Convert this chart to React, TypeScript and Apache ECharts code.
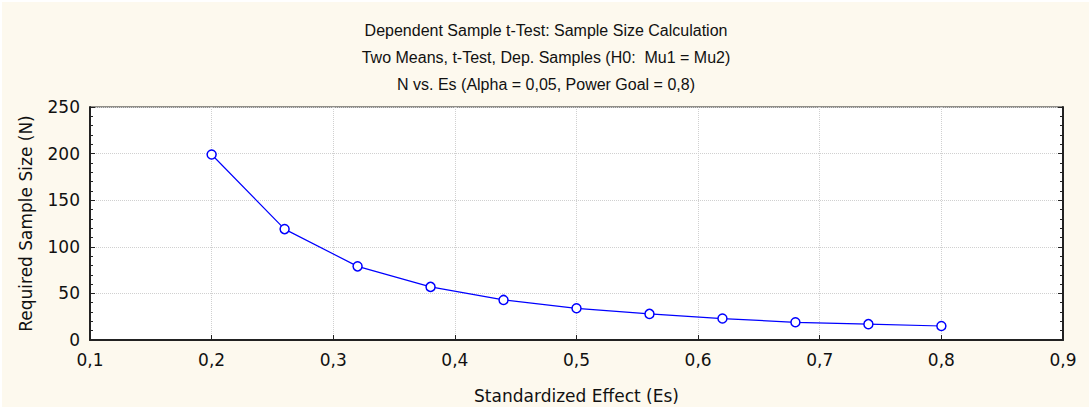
import React, { useEffect, useRef } from "react";
import * as echarts from "echarts";

const titleLines = [
  "Dependent Sample t-Test: Sample Size Calculation",
  "Two Means, t-Test, Dep. Samples (H0:  Mu1 = Mu2)",
  "N vs. Es (Alpha = 0,05, Power Goal = 0,8)",
];
const effectSizes = [0.2, 0.26, 0.32, 0.38, 0.44, 0.5, 0.56, 0.62, 0.68, 0.74, 0.8];
const sampleSizes = [199, 119, 79, 57, 43, 34, 28, 23, 19, 17, 15];
const xAxisName = "Standardized Effect (Es)";
const yAxisName = "Required Sample Size (N)";

const fmt = (v: number) => {
  if (v === 0) return "0";
  return (Math.round(v * 10) / 10).toString().replace(".", ",");
};

export default function App() {
  const ref = useRef<HTMLDivElement>(null);
  useEffect(() => {
    if (!ref.current) return;
    const chart = echarts.init(ref.current, null, { renderer: "svg", width: 1092, height: 409 });
    const font = "'DejaVu Sans', sans-serif";
    const titleFont = "'Liberation Sans', Arial, sans-serif";
    chart.setOption({
      animation: false,
      backgroundColor: "#ffffff",
      graphic: [
        {
          type: "rect",
          z: -10,
          silent: true,
          shape: { x: 2, y: 2, width: 1087, height: 405 },
          style: { fill: "#FDF9EE" },
        },
      ],
      title: {
        text: titleLines.join("\n"),
        left: "center",
        top: 12,
        textStyle: {
          fontFamily: titleFont,
          fontSize: 16,
          fontWeight: "normal",
          color: "#111",
          lineHeight: 27,
        },
      },
      grid: {
        left: 90,
        right: 29,
        top: 107,
        bottom: 68,
        show: true,
        backgroundColor: "#ffffff",
        borderColor: "#222",
        borderWidth: 1,
      },
      xAxis: {
        type: "value",
        min: 0.1,
        max: 0.9,
        interval: 0.1,
        name: xAxisName,
        nameLocation: "middle",
        nameGap: 47,
        nameTextStyle: { fontFamily: font, fontSize: 17, color: "#111" },
        axisLine: { show: true, onZero: false, lineStyle: { color: "#222", width: 2 } },
        axisTick: { show: true, inside: true, length: 5, lineStyle: { color: "#222" } },
        axisLabel: {
          formatter: fmt,
          fontFamily: font,
          fontSize: 17,
          color: "#111",
          margin: 11,
        },
        splitLine: { show: true, lineStyle: { color: "#d0d0d0", type: "dotted" } },
      },
      yAxis: [
        {
          type: "value",
          min: 0,
          max: 250,
          interval: 50,
          name: yAxisName,
          nameLocation: "middle",
          nameGap: 56,
          nameTextStyle: { fontFamily: font, fontSize: 17, color: "#111" },
          axisLine: { show: true, lineStyle: { color: "#222", width: 2 } },
          axisTick: { show: true, inside: true, length: 5, lineStyle: { color: "#222" } },
          minorTick: { show: true, splitNumber: 5, length: 3, lineStyle: { color: "#222" } },
          axisLabel: {
            fontFamily: font,
            fontSize: 17,
            color: "#111",
            margin: 10,
          },
          splitLine: { show: true, lineStyle: { color: "#d0d0d0", type: "dotted" } },
        },
        {
          type: "value",
          position: "right",
          min: 0,
          max: 250,
          interval: 50,
          axisLine: { show: true, lineStyle: { color: "#222", width: 2 } },
          axisTick: { show: true, inside: true, length: 5, lineStyle: { color: "#222" } },
          minorTick: { show: true, splitNumber: 5, length: 3, lineStyle: { color: "#222" } },
          axisLabel: { show: false },
          splitLine: { show: false },
        },
      ],
      series: [
        {
          type: "line",
          data: effectSizes.map((x, i) => [x, sampleSizes[i]]),
          yAxisIndex: 0,
          symbol: "circle",
          symbolSize: 9,
          showAllSymbol: true,
          lineStyle: { color: "#0000FF", width: 1.2 },
          itemStyle: { color: "#ffffff", borderColor: "#0000FF", borderWidth: 1.5 },
        },
      ],
    });
    return () => chart.dispose();
  }, []);
  return (
    <div
      ref={ref}
      style={{ position: "fixed", left: 0, top: 0, width: 1092, height: 409 }}
    />
  );
}
